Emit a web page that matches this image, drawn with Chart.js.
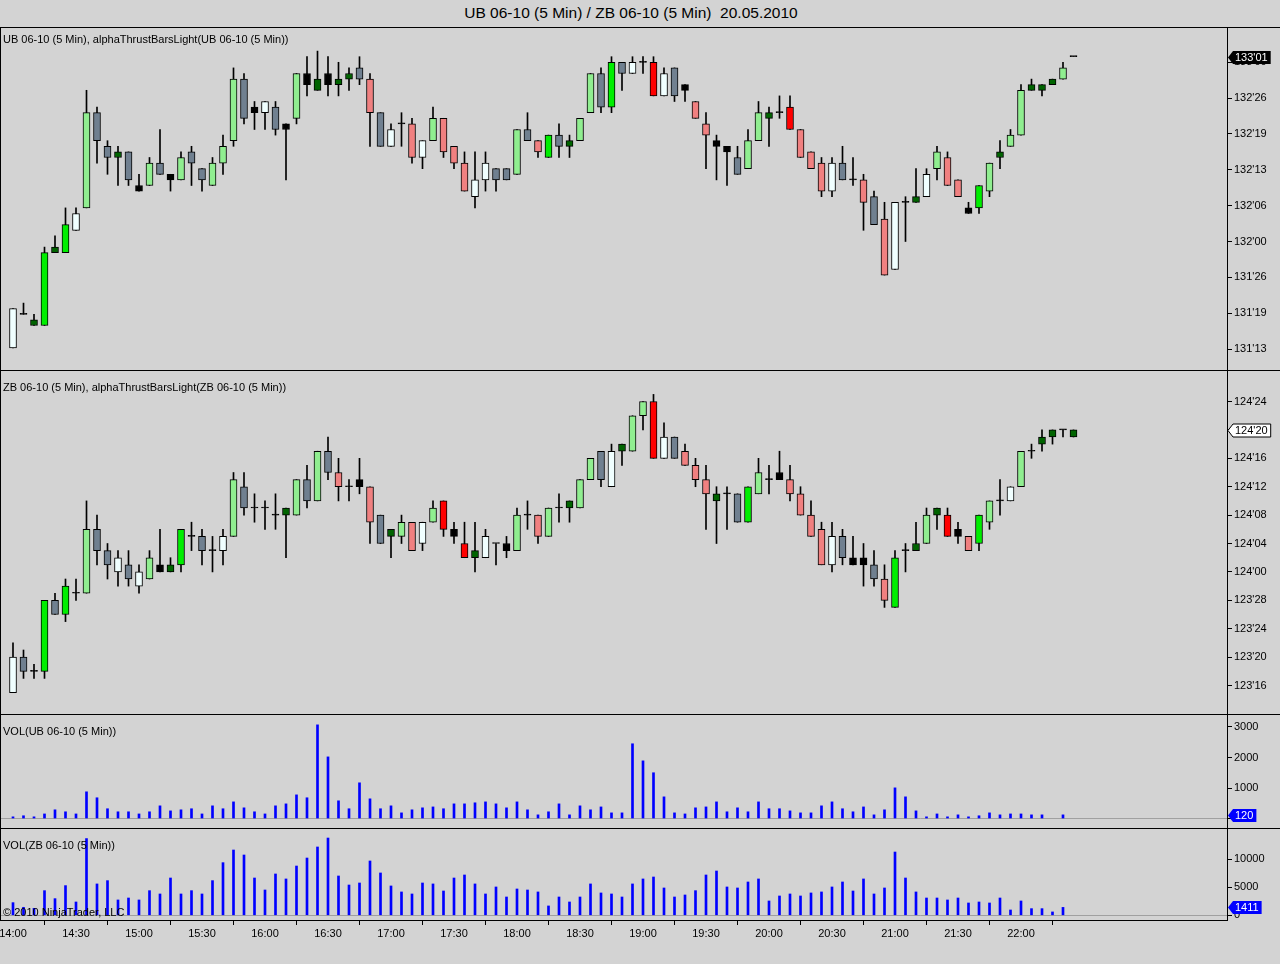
<!DOCTYPE html>
<html>
<head>
<meta charset="utf-8">
<script src="https://cdn.jsdelivr.net/npm/chart.js@4.4.0/dist/chart.umd.min.js"></script>
<style>
body { margin: 0; background: #d3d3d3; }
#wrap { position: relative; width: 1280px; height: 964px; overflow: hidden; font-family: "Liberation Sans", Arial, sans-serif; color: #000; }
canvas { position: absolute; left: 0; }
.lbl { position: absolute; left: 3px; font-size: 11px; line-height: 13px; white-space: pre; z-index: 5; }
.hl { position: absolute; left: 0; width: 1280px; height: 1px; background: #000; z-index: 4; }
#title { position: absolute; left: 0; top: 4px; width: 1262px; text-align: center; font-size: 15.5px; line-height: 18px; white-space: pre; }
</style>
</head>
<body>
<div id="wrap">
  <div id="title">UB 06-10 (5 Min) / ZB 06-10 (5 Min)  20.05.2010</div>
  <canvas id="ub" width="1280" height="342" style="top:28px"></canvas>
  <canvas id="zb" width="1280" height="343" style="top:371px"></canvas>
  <canvas id="ubv" width="1280" height="113" style="top:715px"></canvas>
  <canvas id="zbv" width="1280" height="121" style="top:829px"></canvas>
  <div class="hl" style="top:27px"></div>
  <div class="hl" style="top:370px"></div>
  <div class="hl" style="top:714px"></div>
  <div class="hl" style="top:828px"></div>
  <div style="position:absolute;left:0;top:27px;width:1px;height:893px;background:#000;z-index:4"></div>
  <div class="lbl" style="top:33px">UB 06-10 (5 Min), alphaThrustBarsLight(UB 06-10 (5 Min))</div>
  <div class="lbl" style="top:381px">ZB 06-10 (5 Min), alphaThrustBarsLight(ZB 06-10 (5 Min))</div>
  <div class="lbl" style="top:725px">VOL(UB 06-10 (5 Min))</div>
  <div class="lbl" style="top:839px">VOL(ZB 06-10 (5 Min))</div>
  <div class="lbl" style="top:906px">© 2010 NinjaTrader, LLC</div>
</div>
<script>
// prices are written as bond quotes: 132.26 means 132'26 (132 + 26/32)
const ubOpen = [131.13, 131.19, 131.17, 131.17, 131.30, 131.30, 132.02, 132.06, 132.23, 132.17,
  132.15, 132.16, 132.10, 132.10, 132.14, 132.12, 132.11, 132.16, 132.13, 132.10,
  132.14, 132.18, 132.29, 132.24, 132.23, 132.24, 132.21, 132.22, 132.30, 132.27,
  132.30, 132.28, 132.29, 132.31, 132.29, 132.23, 132.17, 132.21, 132.21, 132.15,
  132.18, 132.22, 132.17, 132.14, 132.08, 132.11, 132.13, 132.13, 132.12, 132.20,
  132.18, 132.15, 132.19, 132.17, 132.18, 132.23, 132.30, 132.24, 133.00, 132.30,
  133.00, 133.00, 132.26, 132.31, 132.28, 132.25, 132.21, 132.18, 132.17, 132.15,
  132.13, 132.18, 132.22, 132.23, 132.24, 132.20, 132.16, 132.14, 132.09, 132.14,
  132.11, 132.11, 132.08, 132.04, 131.27, 132.07, 132.07, 132.08, 132.13, 132.15,
  132.11, 132.06, 132.06, 132.09, 132.15, 132.17, 132.19, 132.27, 132.27, 132.28,
  132.29, 133.01];
const ubHigh = [131.20, 131.21, 131.19, 131.31, 132.01, 132.06, 132.06, 132.27, 132.24, 132.18,
  132.17, 132.16, 132.12, 132.15, 132.20, 132.12, 132.16, 132.17, 132.13, 132.15,
  132.19, 132.31, 132.30, 132.25, 132.25, 132.25, 132.21, 132.30, 133.01, 133.02,
  133.01, 133.00, 132.31, 133.01, 132.30, 132.23, 132.21, 132.23, 132.22, 132.18,
  132.24, 132.22, 132.17, 132.16, 132.16, 132.16, 132.13, 132.13, 132.20, 132.23,
  132.18, 132.19, 132.21, 132.19, 132.22, 132.30, 132.31, 133.01, 133.00, 133.01,
  133.01, 133.01, 132.31, 132.31, 132.28, 132.25, 132.23, 132.19, 132.17, 132.17,
  132.20, 132.25, 132.24, 132.26, 132.26, 132.20, 132.16, 132.15, 132.15, 132.17,
  132.15, 132.12, 132.09, 132.07, 132.07, 132.08, 132.13, 132.13, 132.17, 132.16,
  132.11, 132.07, 132.10, 132.14, 132.18, 132.20, 132.28, 132.29, 132.28, 132.29,
  133.00, 133.01];
const ubLow = [131.13, 131.19, 131.17, 131.17, 131.30, 131.30, 132.02, 132.06, 132.14, 132.12,
  132.10, 132.10, 132.09, 132.10, 132.12, 132.09, 132.11, 132.10, 132.09, 132.10,
  132.12, 132.17, 132.21, 132.20, 132.20, 132.19, 132.11, 132.21, 132.26, 132.27,
  132.26, 132.26, 132.27, 132.28, 132.17, 132.17, 132.17, 132.17, 132.14, 132.13,
  132.18, 132.15, 132.13, 132.09, 132.06, 132.09, 132.09, 132.11, 132.12, 132.18,
  132.15, 132.15, 132.15, 132.15, 132.18, 132.23, 132.23, 132.23, 132.27, 132.30,
  132.30, 132.26, 132.26, 132.25, 132.25, 132.22, 132.13, 132.11, 132.10, 132.12,
  132.13, 132.18, 132.17, 132.22, 132.20, 132.15, 132.13, 132.08, 132.08, 132.11,
  132.10, 132.02, 132.03, 131.26, 131.27, 132.00, 132.07, 132.08, 132.11, 132.10,
  132.08, 132.05, 132.05, 132.08, 132.13, 132.17, 132.19, 132.27, 132.26, 132.28,
  132.29, 133.01];
const ubClose = [131.20, 131.19, 131.18, 131.30, 131.31, 132.03, 132.05, 132.23, 132.18, 132.15,
  132.16, 132.11, 132.09, 132.14, 132.12, 132.11, 132.15, 132.14, 132.11, 132.14,
  132.17, 132.29, 132.22, 132.23, 132.25, 132.20, 132.20, 132.30, 132.28, 132.29,
  132.28, 132.29, 132.30, 132.29, 132.23, 132.17, 132.20, 132.21, 132.15, 132.18,
  132.22, 132.16, 132.14, 132.09, 132.11, 132.14, 132.11, 132.11, 132.20, 132.18,
  132.16, 132.19, 132.17, 132.18, 132.22, 132.30, 132.24, 133.00, 132.30, 133.00,
  133.00, 132.26, 132.30, 132.26, 132.27, 132.22, 132.19, 132.17, 132.16, 132.12,
  132.18, 132.23, 132.23, 132.23, 132.20, 132.15, 132.13, 132.09, 132.14, 132.11,
  132.11, 132.07, 132.03, 131.26, 132.07, 132.07, 132.08, 132.12, 132.16, 132.10,
  132.08, 132.05, 132.10, 132.14, 132.16, 132.19, 132.27, 132.28, 132.28, 132.29,
  132.31, 133.01];
// bar colour codes from the thrust indicator
const ubThrust = "W-DBDBWLGG" + "DGKLGKLGGL" + "LLGKWGKLKD" + "KDDGSGW-SW" + "LSSSWWGGLG" +
  "SBGDLLGBGW" + "-RWGKSSKKG" + "LLD-RSSSWG" + "-SGSW-DWLS" + "SKBLDLLDDD" + "L-";

const zbOpen = [123.15, 123.20, 123.18, 123.18, 123.28, 123.26, 123.29, 123.29, 124.06, 124.03,
  124.00, 124.01, 123.30, 123.31, 124.01, 124.00, 124.01, 124.05, 124.05, 124.03,
  124.03, 124.05, 124.12, 124.09, 124.09, 124.08, 124.08, 124.08, 124.13, 124.10,
  124.17, 124.14, 124.12, 124.13, 124.12, 124.08, 124.05, 124.05, 124.07, 124.04,
  124.07, 124.10, 124.06, 124.04, 124.02, 124.02, 124.04, 124.04, 124.03, 124.08,
  124.08, 124.05, 124.09, 124.09, 124.09, 124.13, 124.17, 124.12, 124.17, 124.17,
  124.22, 124.24, 124.16, 124.19, 124.17, 124.15, 124.13, 124.10, 124.11, 124.11,
  124.07, 124.11, 124.13, 124.14, 124.13, 124.11, 124.08, 124.06, 124.01, 124.05,
  124.02, 124.02, 124.01, 123.31, 123.27, 124.03, 124.03, 124.04, 124.08, 124.08,
  124.06, 124.05, 124.04, 124.07, 124.10, 124.10, 124.12, 124.17, 124.18, 124.19,
  124.20, 124.19];
const zbHigh = [123.22, 123.21, 123.19, 123.28, 123.29, 123.31, 123.31, 124.10, 124.08, 124.04,
  124.03, 124.03, 124.01, 124.03, 124.06, 124.02, 124.06, 124.07, 124.06, 124.05,
  124.06, 124.14, 124.14, 124.11, 124.10, 124.11, 124.09, 124.13, 124.15, 124.17,
  124.19, 124.16, 124.13, 124.16, 124.12, 124.08, 124.06, 124.08, 124.07, 124.07,
  124.10, 124.10, 124.07, 124.07, 124.07, 124.06, 124.04, 124.05, 124.09, 124.10,
  124.08, 124.09, 124.11, 124.10, 124.13, 124.16, 124.17, 124.18, 124.18, 124.22,
  124.24, 124.25, 124.21, 124.19, 124.18, 124.16, 124.15, 124.12, 124.12, 124.11,
  124.12, 124.16, 124.15, 124.17, 124.15, 124.12, 124.10, 124.07, 124.07, 124.06,
  124.05, 124.04, 124.03, 124.01, 124.03, 124.04, 124.07, 124.09, 124.09, 124.09,
  124.07, 124.05, 124.08, 124.10, 124.13, 124.12, 124.17, 124.18, 124.20, 124.20,
  124.20, 124.20];
const zbLow = [123.15, 123.17, 123.17, 123.17, 123.26, 123.25, 123.28, 123.29, 124.01, 123.31,
  123.30, 123.30, 123.29, 123.31, 124.00, 124.00, 124.00, 124.03, 124.01, 124.00,
  124.01, 124.05, 124.08, 124.07, 124.06, 124.06, 124.02, 124.08, 124.09, 124.10,
  124.13, 124.10, 124.10, 124.11, 124.04, 124.04, 124.02, 124.04, 124.03, 124.03,
  124.07, 124.05, 124.04, 124.02, 124.00, 124.02, 124.01, 124.02, 124.03, 124.06,
  124.04, 124.05, 124.07, 124.07, 124.09, 124.13, 124.12, 124.12, 124.15, 124.17,
  124.20, 124.16, 124.16, 124.16, 124.15, 124.12, 124.06, 124.04, 124.06, 124.07,
  124.07, 124.11, 124.11, 124.13, 124.10, 124.08, 124.05, 124.01, 124.00, 124.01,
  124.01, 123.30, 123.30, 123.27, 123.27, 124.00, 124.03, 124.04, 124.06, 124.05,
  124.04, 124.03, 124.03, 124.06, 124.08, 124.10, 124.12, 124.16, 124.17, 124.18,
  124.19, 124.19];
const zbClose = [123.20, 123.18, 123.18, 123.28, 123.26, 123.30, 123.29, 124.06, 124.03, 124.01,
  124.02, 123.31, 124.00, 124.02, 124.00, 124.01, 124.06, 124.05, 124.03, 124.03,
  124.05, 124.13, 124.09, 124.09, 124.09, 124.08, 124.09, 124.13, 124.10, 124.17,
  124.14, 124.12, 124.12, 124.12, 124.07, 124.04, 124.06, 124.07, 124.03, 124.07,
  124.09, 124.06, 124.05, 124.02, 124.03, 124.05, 124.04, 124.03, 124.08, 124.08,
  124.05, 124.09, 124.09, 124.10, 124.13, 124.16, 124.13, 124.17, 124.18, 124.22,
  124.24, 124.16, 124.19, 124.16, 124.15, 124.13, 124.11, 124.11, 124.11, 124.07,
  124.12, 124.14, 124.13, 124.13, 124.11, 124.08, 124.05, 124.01, 124.05, 124.02,
  124.01, 124.01, 123.31, 123.28, 124.02, 124.03, 124.04, 124.08, 124.09, 124.05,
  124.05, 124.03, 124.08, 124.10, 124.10, 124.12, 124.17, 124.17, 124.19, 124.20,
  124.20, 124.20];
const zbThrust = "WG-BGB-LGG" + "WGWLKDB-G-" + "WLG---DLGL" + "GS-KSGDLSW" + "LRKRDW-KL-" +
  "SL-DLLGWDL" + "LRWGSSSD-G" + "BL-KSSSSWG" + "KKGSB-DLDR" + "KSBL-WL-DD" + "-D";

const ubVol = [55, 90, 55, 150, 285, 220, 150, 875, 680, 320,
  220, 220, 150, 220, 415, 250, 285, 320, 150, 415,
  320, 545, 350, 220, 150, 415, 480, 775, 680, 3070,
  2020, 580, 320, 1170, 645, 320, 415, 185, 285, 350,
  380, 320, 480, 480, 515, 545, 480, 350, 545, 285,
  120, 220, 480, 120, 415, 285, 380, 185, 185, 2450,
  1890, 1500, 710, 185, 150, 350, 380, 545, 220, 350,
  220, 545, 320, 320, 250, 185, 185, 415, 545, 320,
  220, 380, 120, 285, 1005, 710, 250, 55, 150, 55,
  120, 55, 90, 185, 120, 150, 150, 120, 120, null,
  120, null];
const zbVol = [2260, 1430, 1250, 4400, 2975, 5300, 2380, 13700, 5600, 6190,
  2740, 3090, 2740, 4400, 3810, 6660, 3810, 4400, 3810, 6190,
  9400, 11660, 10770, 6660, 4520, 7380, 6490, 8800, 10230, 12200,
  13800, 7020, 5410, 5770, 9700, 7560, 5240, 4170, 3810, 5770,
  5600, 4340, 6660, 7200, 5600, 3810, 5060, 3270, 4700, 4520,
  4170, 1670, 3270, 2380, 3270, 5600, 3990, 3810, 3270, 5600,
  6490, 6840, 4880, 3270, 3630, 4400, 7200, 7910, 5060, 4880,
  5950, 6490, 2560, 3450, 3810, 3450, 3990, 4170, 5060, 5950,
  4340, 6490, 3810, 4880, 11300, 6660, 4170, 3090, 3090, 2740,
  3090, 2200, 2380, 2200, 3090, 950, 2560, 1190, 1190, 600,
  1411, null];

// x axis: one slot per 5 min bar, labels every 30 min
const timeTickBars = [0, 6, 12, 18, 24, 30, 36, 42, 48, 54, 60, 66, 72, 78, 84, 90, 96];
const timeTickLabels = ["14:00", "14:30", "15:00", "15:30", "16:00", "16:30", "17:00", "17:30", "18:00",
  "18:30", "19:00", "19:30", "20:00", "20:30", "21:00", "21:30", "22:00"];

const ubTicks = [131.4, 131.6, 131.8, 132.0, 132.2, 132.4, 132.6, 132.8, 133.0];
const zbTicks = [123.5, 123.625, 123.75, 123.875, 124.0, 124.125, 124.25, 124.375, 124.5, 124.625, 124.75];
const ubVolTicks = [0, 1000, 2000, 3000];
const zbVolTicks = [0, 5000, 10000];

const thrustColors = {
  W: "#f0ffff", G: "#708090", K: "#000000", D: "#006400",
  B: "#00ee00", L: "#90ee90", S: "#f08080", R: "#ff0000", "-": "#000000"
};

const X_MIN = -13 / 10.5, X_MAX = X_MIN + 1227 / 10.5;

Chart.defaults.font.family = '"Liberation Sans", Arial, sans-serif';
Chart.defaults.font.size = 11;
Chart.defaults.color = "#000";

function p32(v) {
    const w = Math.floor(v);
    return w + Math.round((v - w) * 100) / 32;
}

function fmt32(v) {
    let w = Math.floor(v + 1e-9);
    let n = Math.round((v - w) * 32);
    if (n === 32) { w++; n = 0; }
    return w + "'" + String(n).padStart(2, "0");
}

// box with the last value, pointing at the axis
const lastMarker = {
    id: "lastMarker",
    afterDraw(chart, args, opts) {
        if (!opts || opts.text == null) return;
        const ctx = chart.ctx;
        const y = Math.round(chart.scales.y.getPixelForValue(opts.value)) + 0.5;
        const x = chart.chartArea.right + 1;
        ctx.save();
        ctx.font = '11px "Liberation Sans", Arial, sans-serif';
        const w = ctx.measureText(opts.text).width + 5;
        ctx.beginPath();
        ctx.moveTo(x, y);
        ctx.lineTo(x + 5, y - 6.5);
        ctx.lineTo(x + 5 + w, y - 6.5);
        ctx.lineTo(x + 5 + w, y + 6.5);
        ctx.lineTo(x + 5, y + 6.5);
        ctx.closePath();
        ctx.fillStyle = opts.bg;
        ctx.fill();
        if (opts.line) { ctx.strokeStyle = opts.line; ctx.lineWidth = 1; ctx.stroke(); }
        ctx.fillStyle = opts.fg;
        ctx.textBaseline = "middle";
        ctx.textAlign = "left";
        ctx.fillText(opts.text, x + 7, y);
        ctx.restore();
    }
};

function panelOptions(yMin, yMax, yTicks, fmt, showX, mark, zeroLine) {
    return {
        responsive: false,
        animation: false,
        devicePixelRatio: 1,
        events: [],
        layout: { padding: 0 },
        plugins: { legend: { display: false }, tooltip: { enabled: false }, lastMarker: mark },
        scales: {
            x: {
                type: "linear", min: X_MIN, max: X_MAX, offset: false, display: showX,
                afterBuildTicks: s => { s.ticks = timeTickBars.map(v => ({ value: v })); },
                afterFit: s => {
                    if (s.options.display) s.height = 30;
                    s.paddingLeft = 0; s.paddingRight = 0;
                },
                ticks: {
                    autoSkip: false, maxRotation: 0, padding: 2,
                    callback: v => timeTickLabels[timeTickBars.indexOf(v)]
                },
                grid: { drawOnChartArea: false, tickLength: 5, color: "#000" },
                border: { color: "#000" }
            },
            y: {
                position: "right", min: yMin, max: yMax,
                afterBuildTicks: s => { s.ticks = yTicks.map(v => ({ value: v })); },
                afterFit: s => { s.width = 53; s.paddingTop = 0; s.paddingBottom = 0; },
                ticks: { autoSkip: false, padding: 2, callback: fmt },
                grid: {
                    drawOnChartArea: zeroLine, tickLength: 5, tickColor: "#000",
                    color: c => (zeroLine && c.tick && c.tick.value === 0) ? "#a0a0a0" : (zeroLine ? "rgba(0,0,0,0)" : "#000")
                },
                border: { color: "#000" }
            }
        }
    };
}

function candleChart(id, o, h, l, c, thrust, yMin, yMax, yTicks, mark) {
    const idx = o.map((_, i) => i);
    new Chart(document.getElementById(id), {
        type: "bar",
        data: {
            datasets: [{
                label: "body", order: 0, grouped: false,
                data: idx.map(i => ({ x: i, y: [p32(o[i]), p32(c[i])] })),
                backgroundColor: thrust.split("").map(k => thrustColors[k]),
                borderColor: "#000", borderWidth: 1, borderSkipped: false,
                barThickness: 7, minBarLength: 1
            }, {
                label: "wick", order: 1, grouped: false,
                data: idx.map(i => ({ x: i, y: [p32(l[i]), p32(h[i])] })),
                backgroundColor: "#000", borderWidth: 0, barThickness: 1
            }]
        },
        options: panelOptions(yMin, yMax, yTicks, fmt32, false, mark, false),
        plugins: [lastMarker]
    });
}

function volumeChart(id, vol, yMin, yMax, yTicks, showX) {
    let last = null;
    vol.forEach(v => { if (v != null) last = v; });
    new Chart(document.getElementById(id), {
        type: "bar",
        data: {
            datasets: [{
                label: "vol",
                data: vol.map((v, i) => ({ x: i, y: v })),
                backgroundColor: "#0000ff", borderWidth: 0, barThickness: 2
            }]
        },
        options: panelOptions(yMin, yMax, yTicks, v => String(v), showX,
            { value: last, text: String(last), bg: "#0000ff", fg: "#fff" }, true),
        plugins: [lastMarker]
    });
}

candleChart("ub", ubOpen, ubHigh, ubLow, ubClose, ubThrust, 131.2829, 133.1914, ubTicks,
    { value: p32(ubClose[ubClose.length - 1]), text: fmt32(p32(ubClose[ubClose.length - 1])), bg: "#000", fg: "#fff" });
candleChart("zb", zbOpen, zbHigh, zbLow, zbClose, zbThrust, 123.3746, 124.8843, zbTicks,
    { value: p32(zbClose[zbClose.length - 1]), text: fmt32(p32(zbClose[zbClose.length - 1])), bg: "#fff", fg: "#000", line: "#000" });
volumeChart("ubv", ubVol, -311, 3393, ubVolTicks, false);
volumeChart("zbv", zbVol, -839, 15411, zbVolTicks, true);
</script>
</body>
</html>
